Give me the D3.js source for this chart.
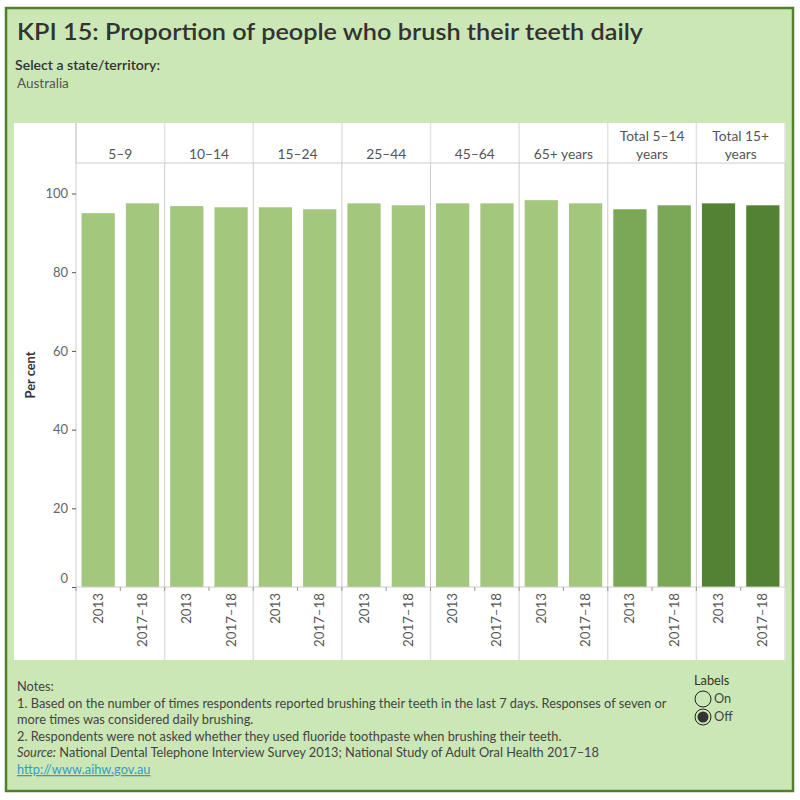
<!DOCTYPE html>
<html>
<head>
<meta charset="utf-8">
<script src="https://cdn.jsdelivr.net/npm/d3@7"></script>
<style>
  html, body { margin: 0; padding: 0; background: #fff; }
  svg { display: block; font-family: Lato, "Open Sans", sans-serif; }
</style>
</head>
<body>
<svg id="chart" width="800" height="800"></svg>
<script>
// ---- data ----
const groups = ["5–9", "10–14", "15–24", "25–44", "45–64", "65+ years", "Total 5–14 years", "Total 15+ years"];
const years = ["2013", "2017–18"];
const values2013 = [95.0, 96.8, 96.5, 97.5, 97.5, 98.3, 96.0, 97.5];
const values201718 = [97.5, 96.5, 96.0, 97.0, 97.5, 97.5, 97.0, 97.0];
const yTicks = [0, 20, 40, 60, 80, 100];
const groupKind = ["age", "age", "age", "age", "age", "age", "total514", "total15"];

const noteLines = [
  "Notes:",
  "1. Based on the number of times respondents reported brushing their teeth in the last 7 days. Responses of seven or",
  "more times was considered daily brushing.",
  "2. Respondents were not asked whether they used fluoride toothpaste when brushing their teeth."
];

// ---- layout ----
const svg = d3.select("#chart");
const W = 800, H = 800;
const plotLeft = 76, plotRight = 785, headerTop = 123, headerBottom = 163, baseY = 587, whiteBottom = 660;

// background
svg.append("rect").attr("x", 0).attr("y", 0).attr("width", W).attr("height", H).attr("fill", "#ffffff");
svg.append("rect").attr("x", 6).attr("y", 8).attr("width", 787).attr("height", 783)
  .attr("fill", "#cbe7b5").attr("stroke", "#4f7f2f").attr("stroke-width", 2.5);

// title
svg.append("text").attr("x", 17).attr("y", 40)
  .attr("font-size", 23).attr("font-weight", 600).attr("fill", "#333")
  .attr("textLength", 626).attr("lengthAdjust", "spacingAndGlyphs")
  .text("KPI 15: Proportion of people who brush their teeth daily");
svg.append("text").attr("x", 15).attr("y", 70).attr("font-size", 13.5).attr("font-weight", 600).attr("fill", "#333")
  .attr("textLength", 145).attr("lengthAdjust", "spacingAndGlyphs")
  .text("Select a state/territory:");
svg.append("text").attr("x", 17).attr("y", 88).attr("font-size", 13.5).attr("fill", "#555")
  .text("Australia");

// white chart area
svg.append("rect").attr("x", 14).attr("y", headerTop).attr("width", plotRight - 14).attr("height", whiteBottom - headerTop)
  .attr("fill", "#ffffff");

// scales
const x0 = d3.scaleBand().domain(groups).range([plotLeft, plotRight]).paddingInner(0).paddingOuter(0);
const x1 = d3.scaleBand().domain(years).range([0, x0.bandwidth()]).paddingInner(0.25).paddingOuter(0.125);
const y = d3.scaleLinear().domain([0, 100]).range([baseY, 193.5]);

const colorScale = d3.scaleOrdinal().domain(["age", "total514", "total15"]).range(["#a3c77d", "#7ba857", "#548233"]);

const data = groups.map((g, i) => ({
  group: g, kind: groupKind[i],
  vals: [{ year: years[0], v: values2013[i] }, { year: years[1], v: values201718[i] }]
}));

// header cells dividers
const gHead = svg.append("g");
groups.forEach((g, i) => {
  const x = x0(g);
  gHead.append("line").attr("x1", x).attr("x2", x).attr("y1", headerTop).attr("y2", headerBottom)
    .attr("stroke", "#e3e3e3").attr("stroke-width", 1.5);
});
gHead.append("line").attr("x1", plotRight).attr("x2", plotRight).attr("y1", headerTop).attr("y2", headerBottom)
  .attr("stroke", "#e3e3e3").attr("stroke-width", 1.5);

// header labels
groups.forEach(g => {
  const cx = x0(g) + x0.bandwidth() / 2;
  let lines = [g];
  if (g.startsWith("Total")) {
    const k = g.lastIndexOf(" ");
    lines = [g.slice(0, k), g.slice(k + 1)];
  }
  const t = gHead.append("text").attr("text-anchor", "middle").attr("font-size", 13.8).attr("fill", "#555");
  lines.forEach((ln, j) => {
    t.append("tspan").attr("x", cx).attr("y", 159 - (lines.length - 1 - j) * 18.5).text(ln);
  });
});

// header bottom line
svg.append("line").attr("x1", plotLeft).attr("x2", plotRight).attr("y1", headerBottom).attr("y2", headerBottom)
  .attr("stroke", "#cccccc");

// panel dividers in plot area
groups.forEach((g, i) => {
  if (i === 0) return;
  const x = x0(g);
  svg.append("line").attr("x1", x).attr("x2", x).attr("y1", headerBottom).attr("y2", baseY)
    .attr("stroke", "#cccccc");
});
svg.append("line").attr("x1", plotRight).attr("x2", plotRight).attr("y1", headerBottom).attr("y2", baseY)
  .attr("stroke", "#cccccc");

// bottom label area dividers
groups.forEach((g, i) => {
  const x = x0(g);
  svg.append("line").attr("x1", x).attr("x2", x).attr("y1", baseY).attr("y2", whiteBottom)
    .attr("stroke", "#e0e0e0").attr("stroke-width", 1.5);
});
svg.append("line").attr("x1", plotRight).attr("x2", plotRight).attr("y1", baseY).attr("y2", whiteBottom)
  .attr("stroke", "#e0e0e0").attr("stroke-width", 1.5);

// bars
const gBars = svg.append("g");
data.forEach(d => {
  gBars.selectAll(null).data(d.vals).enter().append("rect")
    .attr("x", v => x0(d.group) + x1(v.year))
    .attr("width", x1.bandwidth())
    .attr("y", v => y(v.v))
    .attr("height", v => y(0) - y(v.v))
    .attr("fill", colorScale(d.kind));
});

// y axis
const yAxis = d3.axisLeft(y).tickValues(yTicks).tickSize(4).tickPadding(4).tickSizeOuter(0);
const gy = svg.append("g").attr("transform", `translate(${plotLeft},0)`).call(yAxis);
gy.select(".domain").attr("stroke", "#cccccc").attr("d", `M0,${headerTop}V${baseY}`);
gy.selectAll(".tick line").attr("stroke", "#555");
gy.selectAll(".tick text").attr("font-size", 13).attr("fill", "#666").attr("font-family", "Lato, sans-serif")
  .attr("dy", d => d === 0 ? "-0.35em" : "0.32em");

// y axis title
svg.append("text").attr("transform", `translate(35,${375}) rotate(-90)`).attr("text-anchor", "middle")
  .attr("font-size", 12.8).attr("font-weight", 700).attr("fill", "#333").text("Per cent");

// x baseline and ticks
svg.append("line").attr("x1", plotLeft).attr("x2", plotRight).attr("y1", baseY).attr("y2", baseY).attr("stroke", "#cccccc");
groups.forEach(g => {
  years.forEach((yr, j) => {
    const tx = x0(g) + (j === 0 ? 0 : x0.bandwidth() / 2);
    svg.append("line").attr("x1", tx).attr("x2", tx).attr("y1", baseY).attr("y2", baseY + 4).attr("stroke", "#999");
  });
  years.forEach(yr => {
    const cx = x0(g) + x1(yr) + x1.bandwidth() / 2;
    svg.append("text").attr("transform", `translate(${cx + 4.5},${593}) rotate(-90)`)
      .attr("text-anchor", "end").attr("font-size", 13.3).attr("fill", "#555").text(yr);
  });
});

// notes
const gNotes = svg.append("g").attr("font-size", 12.8).attr("fill", "#444");
noteLines.forEach((ln, i) => {
  gNotes.append("text").attr("x", 17).attr("y", 691 + i * 16.5).text(ln);
});
const src = gNotes.append("text").attr("x", 17).attr("y", 757);
src.append("tspan").attr("font-style", "italic").text("Source:");
src.append("tspan").text(" National Dental Telephone Interview Survey 2013; National Study of Adult Oral Health 2017–18");
gNotes.append("text").attr("x", 17).attr("y", 774).attr("fill", "#3a9ac0").attr("text-decoration", "underline")
  .text("http://www.aihw.gov.au");

// labels toggle
const gL = svg.append("g");
gL.append("text").attr("x", 694).attr("y", 685).attr("font-size", 12.8).attr("fill", "#333").text("Labels");
gL.append("circle").attr("cx", 703).attr("cy", 699).attr("r", 8).attr("fill", "none").attr("stroke", "#222").attr("stroke-width", 1);
gL.append("text").attr("x", 714).attr("y", 703).attr("font-size", 12.8).attr("fill", "#444").text("On");
gL.append("circle").attr("cx", 703).attr("cy", 717).attr("r", 8).attr("fill", "none").attr("stroke", "#222").attr("stroke-width", 1);
gL.append("circle").attr("cx", 703).attr("cy", 717).attr("r", 5.5).attr("fill", "#333");
gL.append("text").attr("x", 714).attr("y", 721).attr("font-size", 12.8).attr("fill", "#444").text("Off");
</script>
</body>
</html>
